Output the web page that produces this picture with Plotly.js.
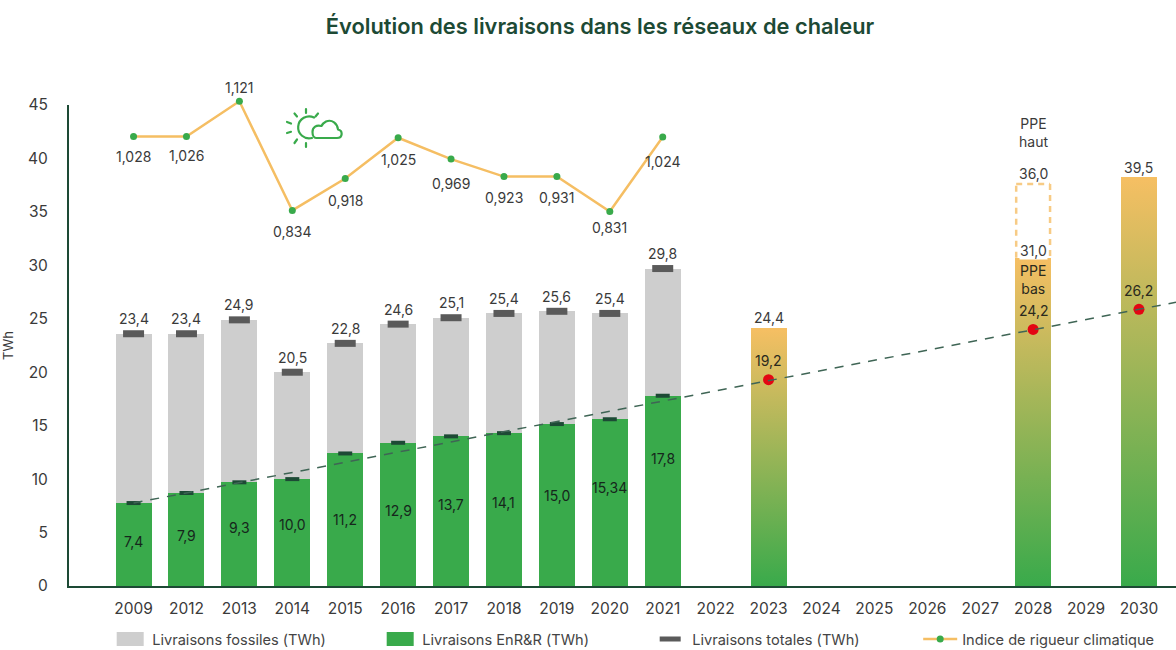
<!DOCTYPE html>
<html><head><meta charset="utf-8">
<script src="https://cdn.plot.ly/plotly-3.0.1.min.js"></script>
<style>html,body{margin:0;padding:0;background:#fff}#c{width:1176px;height:650px}</style>
</head><body><div id="c"></div>
<script>
const categories=["2009","2012","2013","2014","2015","2016","2017","2018","2019","2020","2021","2022","2023","2024","2025","2026","2027","2028","2029","2030"];
const histYears=["2009","2012","2013","2014","2015","2016","2017","2018","2019","2020","2021"];
const enrHeights=[7.76,8.7,9.7,10.0,12.4,13.4,14.0,14.3,15.15,15.6,17.8];
const fossilHeights=[15.84,14.9,15.2,10.0,10.3,11.1,11.1,11.2,10.55,9.9,11.9];
const totalMarks=[23.6,23.6,24.9,20.0,22.7,24.5,25.1,25.5,25.7,25.5,29.7];
const enrLabels=["7,4","7,9","9,3","10,0","11,2","12,9","13,7","14,1","15,0","15,34","17,8"];
const enrLabelY=[4.2,4.77,5.5,5.8,6.2,7.1,7.6,7.8,8.5,9.2,11.96];
const totalLabels=["23,4","23,4","24,9","20,5","22,8","24,6","25,1","25,4","25,6","25,4","29,8"];
const climateIndex=[1.028,1.028,1.121,0.834,0.918,1.025,0.969,0.923,0.923,0.831,1.027];
const climateLabels=["1,028","1,026","1,121","0,834","0,918","1,025","0,969","0,923","0,931","0,831","1,024"];
const climateShift=[-20,-19,14,-21,-22,-22,-24,-21,-21,-16,-24];
const projYears=["2023","2028","2030"];
const projHeights=[24.1,30.7,38.3];
const projLabels=["24,4","31,0","39,5"];
const projShift=[11,7,9];
const targetValues=[19.3,24.0,25.88];
const targetLabels=["19,2","24,2","26,2"];
const ppeHighTop=37.6;
const trendX=[0,19.7];
const trendY=[7.76,26.55];

const GREEN="#39AA4B",DARK="#1D4A35",TXT="#3A3A3A",FONT="Inter, Lato, sans-serif",BW=0.68;
const idx=y=>categories.indexOf(y);
const ann=(x,y,text,shift,extra)=>Object.assign({x,y,text,yshift:shift,showarrow:false,xanchor:"center",yanchor:"middle",font:{family:FONT,size:14,color:TXT}},extra||{});

const traces=[
 {type:"bar",name:"Livraisons EnR&R (TWh)",x:histYears,y:enrHeights,width:BW,marker:{color:GREEN},legendrank:2},
 {type:"bar",name:"Livraisons fossiles (TWh)",x:histYears,y:fossilHeights,width:BW,marker:{color:"#CECECE"},legendrank:1},
 {type:"bar",name:"Projection",x:projYears,y:projHeights,width:BW,marker:{color:"#A8B55A"},showlegend:false},
 {type:"scatter",mode:"lines",name:"Tendance",x:trendX,y:trendY,xaxis:"x2",line:{color:"#3F6555",width:1.5,dash:"9px,8px"},showlegend:false,hoverinfo:"skip"},
 {type:"scatter",mode:"markers",name:"Livraisons totales (TWh)",x:histYears,y:totalMarks,marker:{symbol:"line-ew",size:15,line:{width:7,color:"#5A5A5A"},color:"#5A5A5A"},legendrank:3},
 {type:"scatter",mode:"markers",name:"EnR&R repère",x:histYears,y:enrHeights,marker:{symbol:"line-ew",size:10,line:{width:4,color:"#1D4A35"}},showlegend:false},
 {type:"scatter",mode:"markers",name:"Objectif",x:projYears,y:targetValues,marker:{color:"#E30613",size:11},showlegend:false},
 {type:"scatter",mode:"lines+markers",name:"Indice de rigueur climatique",x:histYears,y:climateIndex,yaxis:"y2",line:{color:"#F5BE63",width:2.5},marker:{color:GREEN,size:7},legendrank:4}
];

const annotations=[];
histYears.forEach((y,i)=>{
  annotations.push(ann(idx(y),enrLabelY[i],enrLabels[i],0,{font:{family:FONT,size:14,color:"#16261C"}}));
  annotations.push(ann(idx(y),totalMarks[i],totalLabels[i],15));
  annotations.push(ann(idx(y),climateIndex[i],climateLabels[i],climateShift[i],{yref:"y2"}));
});
projYears.forEach((y,i)=>{
  annotations.push(ann(idx(y),projHeights[i],projLabels[i],projShift[i],i===1?{bgcolor:"#fff",borderpad:0}:{}));
  annotations.push(ann(idx(y),targetValues[i],targetLabels[i],19,{font:{family:FONT,size:14,color:"#2A2A1E"}}));
});
const i28=idx("2028");
annotations.push(ann(i28,ppeHighTop,"36,0",11));
annotations.push(ann(i28,ppeHighTop,"PPE<br>haut",52,{font:{family:FONT,size:14,color:TXT}}));
annotations.push(ann(i28,projHeights[1],"PPE<br>bas",-22,{font:{family:FONT,size:14,color:"#2A2A1E"}}));

const dashLine={color:"#F7CB85",width:2.5,dash:"6px,5px"};
const mkLine=(x0,y0,x1,y1)=>({type:"line",xref:"x",yref:"y",x0,y0,x1,y1,line:dashLine,layer:"above"});
const shapes=[
 mkLine(i28-BW/2+.02,projHeights[1],i28-BW/2+.02,ppeHighTop),
 mkLine(i28-BW/2+.02,ppeHighTop,i28+BW/2-.02,ppeHighTop),
 mkLine(i28+BW/2-.02,ppeHighTop,i28+BW/2-.02,projHeights[1])
];

const iconSvg=`<svg xmlns="http://www.w3.org/2000/svg" width="58" height="44" viewBox="0 0 58 44"><g fill="none" stroke="${GREEN}" stroke-width="2.2" stroke-linecap="round" stroke-linejoin="round"><path d="M29 10.5A11 11 0 1 0 27 31"/><path d="M21 2v4M21 36v4M9.5 6.5l2.5 3M33 6.5l-2.5 3M2 15l4 1.6M2 26l4-1.2M9.5 36l2.500-3.500"/><path d="M31 31h21c6 0 6-7.5 1-8.5c-.5-6-6-10.5-12-8c-2 1-3.5 2.500-4.500 4.500c-5-1.500-9 1-9 6c0 3.500 1.500 6 3.500 6z"/></g></svg>`;

const layout={
 width:1176,height:650,paper_bgcolor:"#fff",plot_bgcolor:"rgba(0,0,0,0)",
 margin:{l:69,r:0,t:94,b:64,pad:0},barmode:"stack",
 title:{text:"Évolution des livraisons dans les réseaux de chaleur",x:600/1176,xanchor:"center",y:1-26/650,yanchor:"middle",font:{family:FONT,size:21.8,color:DARK,weight:600}},
 font:{family:FONT,size:14,color:TXT},
 xaxis:{type:"category",categoryorder:"array",categoryarray:categories,tickmode:"array",tickvals:categories,range:[-1.22,19.7],showgrid:false,zeroline:false,showline:true,linecolor:DARK,linewidth:2,ticks:"",ticklabelstandoff:7,tickfont:{family:FONT,size:15.5,color:TXT},fixedrange:true},
 xaxis2:{overlaying:"x",range:[-1.22,19.7],visible:false,anchor:"y",fixedrange:true},
 yaxis:{domain:[0,481/492],range:[0,45],tick0:0,dtick:5,showgrid:false,zeroline:false,showline:true,linecolor:DARK,linewidth:2,ticks:"",ticklabelstandoff:16,tickfont:{family:FONT,size:15.5,color:TXT},title:{text:"TWh",standoff:13,font:{family:FONT,size:13,color:TXT}},fixedrange:true},
 yaxis2:{domain:[0,1],anchor:"x",range:[-0.153,1.14],visible:false,fixedrange:true},
 showlegend:true,
 legend:{orientation:"h",traceorder:"normal",xref:"container",yref:"container",x:0.092,xanchor:"left",y:0.0415,yanchor:"top",itemwidth:34,entrywidth:221,entrywidthmode:"pixels",font:{family:FONT,size:14.6,color:"#444"},bgcolor:"rgba(0,0,0,0)",itemclick:false,itemdoubleclick:false},
 annotations,shapes,
 images:[{source:"data:image/svg+xml;charset=utf-8,"+encodeURIComponent(iconSvg),xref:"paper",yref:"paper",x:(285-69)/1107,y:1-(107-94)/492,sizex:58/1107,sizey:44/492,xanchor:"left",yanchor:"top",sizing:"contain",layer:"above"}]
};

function applyGradient(gd){
  const svg=gd.querySelector("svg.main-svg");
  const ns="http://www.w3.org/2000/svg";
  let defs=svg.querySelector("defs");
  if(!svg.querySelector("#projGrad")){
    const g=document.createElementNS(ns,"linearGradient");
    g.setAttribute("id","projGrad");g.setAttribute("x1","0");g.setAttribute("y1","0");g.setAttribute("x2","0");g.setAttribute("y2","1");
    [["0","#F6BF63"],["1",GREEN]].forEach(([o,c])=>{const s=document.createElementNS(ns,"stop");s.setAttribute("offset",o);s.setAttribute("stop-color",c);g.appendChild(s);});
    defs.appendChild(g);
  }
  const bars=gd.querySelectorAll(".barlayer .trace.bars")[2];
  if(bars)bars.querySelectorAll(".point path").forEach(p=>{p.style.fill="url(#projGrad)";});
  gd.querySelectorAll(".legend path.legendbar, .legend path.legendundefined, .legend .legendbar path").forEach(p=>{p.setAttribute("d","M13.5,7H-13.5V-7H13.5Z");});
}
const gd=document.getElementById("c");
Plotly.newPlot(gd,traces,layout,{displayModeBar:false,responsive:false}).then(()=>{applyGradient(gd);gd.on("plotly_afterplot",()=>applyGradient(gd));});
</script></body></html>
